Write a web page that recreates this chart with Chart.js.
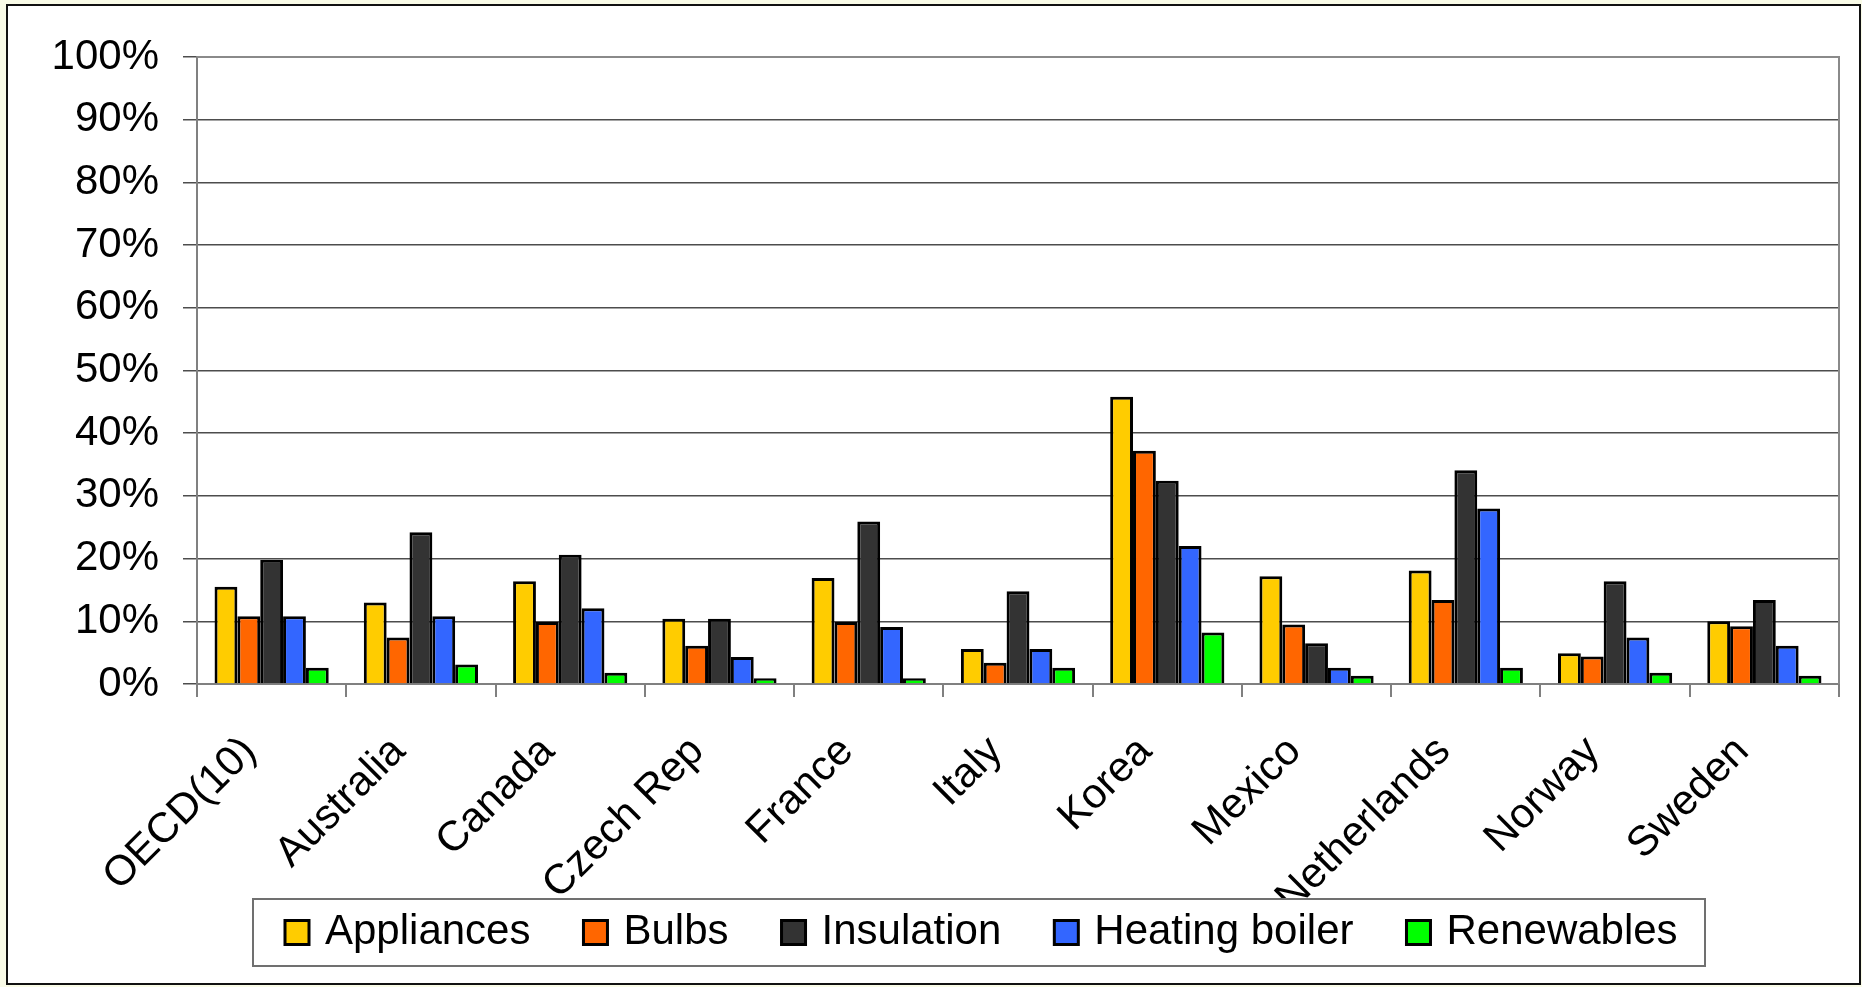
<!DOCTYPE html>
<html>
<head>
<meta charset="utf-8">
<script src="https://cdn.jsdelivr.net/npm/chart.js@4/dist/chart.umd.min.js"></script>
<style>
    html, body { margin: 0; padding: 0; background: #f9fbe7; }
    #chart { display: block; }
</style>
</head>
<body>
<canvas id="chart" width="1862" height="987"></canvas>
<script>
const categories = ["OECD(10)", "Australia", "Canada", "Czech Rep", "France", "Italy", "Korea", "Mexico", "Netherlands", "Norway", "Sweden"];

// values in percent
const appliances    = [15.5, 13.0, 16.4, 10.4, 16.9, 5.6, 45.8, 17.2, 18.1, 4.9, 10.0];
const bulbs         = [10.8, 7.4, 9.9, 6.1, 9.9, 3.4, 37.2, 9.5, 13.4, 4.4, 9.2];
const insulation    = [19.8, 24.2, 20.6, 10.4, 25.9, 14.8, 32.4, 6.5, 34.1, 16.4, 13.4];
const heatingBoiler = [10.8, 10.8, 12.1, 4.3, 9.1, 5.6, 22.0, 2.6, 28.0, 7.4, 6.1];
const renewables    = [2.6, 3.1, 1.8, 0.9, 0.9, 2.6, 8.2, 1.3, 2.6, 1.8, 1.3];

const seriesNames = ["Appliances", "Bulbs", "Insulation", "Heating boiler", "Renewables"];
const seriesColors = ["#ffcc00", "#ff6600", "#333333", "#3366ff", "#00ff00"];

const FONT = "'Liberation Sans', Arial, sans-serif";

function makeDataset(index, values) {
    return {
        label: seriesNames[index],
        data: values,
        backgroundColor: seriesColors[index],
        borderColor: "#000000",
        borderWidth: 3,
        categoryPercentage: 0.765,
        barPercentage: 1.0
    };
}

const framePlugin = {
    id: "frame",
    beforeDraw(chart) {
        const ctx = chart.ctx;
        ctx.save();
        ctx.fillStyle = "#f9fbe7";
        ctx.fillRect(0, 0, chart.width, chart.height);
        ctx.fillStyle = "#ffffff";
        ctx.fillRect(7, 5, 1853, 979);
        ctx.strokeStyle = "#111111";
        ctx.lineWidth = 2;
        ctx.strokeRect(7, 5, 1853, 979);
        ctx.restore();
    },
    beforeDatasetsDraw(chart) {
        const a = chart.chartArea;
        const ctx = chart.ctx;
        ctx.save();
        ctx.strokeStyle = "#8a8a8a";
        ctx.lineWidth = 2;
        ctx.beginPath();
        ctx.moveTo(a.left, a.top);
        ctx.lineTo(a.right, a.top);
        ctx.lineTo(a.right, a.bottom);
        ctx.stroke();
        ctx.restore();
    }
};

// Excel-style legend box, drawn last so it covers the long label under it
const legendBoxPlugin = {
    id: "legendBox",
    afterDraw(chart) {
        const ctx = chart.ctx;
        const box = { x: 253, y: 899, w: 1452, h: 67 };
        const square = 24;
        const midY = box.y + box.h / 2;

        ctx.save();
        ctx.fillStyle = "#ffffff";
        ctx.fillRect(box.x, box.y, box.w, box.h);
        ctx.strokeStyle = "#707070";
        ctx.lineWidth = 2;
        ctx.strokeRect(box.x, box.y, box.w, box.h);

        ctx.font = "42px " + FONT;
        ctx.textBaseline = "middle";
        ctx.textAlign = "left";

        let x = box.x + 32;
        chart.data.datasets.forEach((ds) => {
            ctx.fillStyle = ds.backgroundColor;
            ctx.fillRect(x, midY - square / 2, square, square);
            ctx.strokeStyle = "#000000";
            ctx.lineWidth = 3;
            ctx.strokeRect(x, midY - square / 2, square, square);

            ctx.fillStyle = "#000000";
            ctx.fillText(ds.label, x + square + 16, midY);
            x += square + 16 + ctx.measureText(ds.label).width + 53;
        });
        ctx.restore();
    }
};

const chart = new Chart(document.getElementById("chart"), {
    type: "bar",
    data: {
        labels: categories,
        datasets: [
            makeDataset(0, appliances),
            makeDataset(1, bulbs),
            makeDataset(2, insulation),
            makeDataset(3, heatingBoiler),
            makeDataset(4, renewables)
        ]
    },
    options: {
        responsive: false,
        animation: false,
        layout: { padding: { top: 57, right: 23, left: 0, bottom: 0 } },
        plugins: {
            legend: { display: false },
            tooltip: { enabled: false }
        },
        scales: {
            x: {
                afterFit: (scale) => { scale.height = 303; },
                grid: {
                    drawOnChartArea: false,
                    drawTicks: true,
                    tickLength: 13,
                    tickColor: "#808080",
                    lineWidth: 2
                },
                border: { color: "#808080", width: 2 },
                ticks: {
                    autoSkip: false,
                    maxRotation: 45,
                    minRotation: 45,
                    padding: 30,
                    labelOffset: -22,
                    color: "#000000",
                    font: { family: FONT, size: 42 }
                }
            },
            y: {
                min: 0,
                max: 100,
                afterFit: (scale) => { scale.width = 197; },
                grid: {
                    color: "#4d4d4d",
                    lineWidth: 1.5,
                    tickLength: 14,
                    tickColor: "#4d4d4d"
                },
                border: { color: "#808080", width: 2 },
                ticks: {
                    stepSize: 10,
                    padding: 24,
                    color: "#000000",
                    font: { family: FONT, size: 42 },
                    callback: (value) => value + "%"
                }
            }
        }
    },
    plugins: [framePlugin, legendBoxPlugin]
});
</script>
</body>
</html>
